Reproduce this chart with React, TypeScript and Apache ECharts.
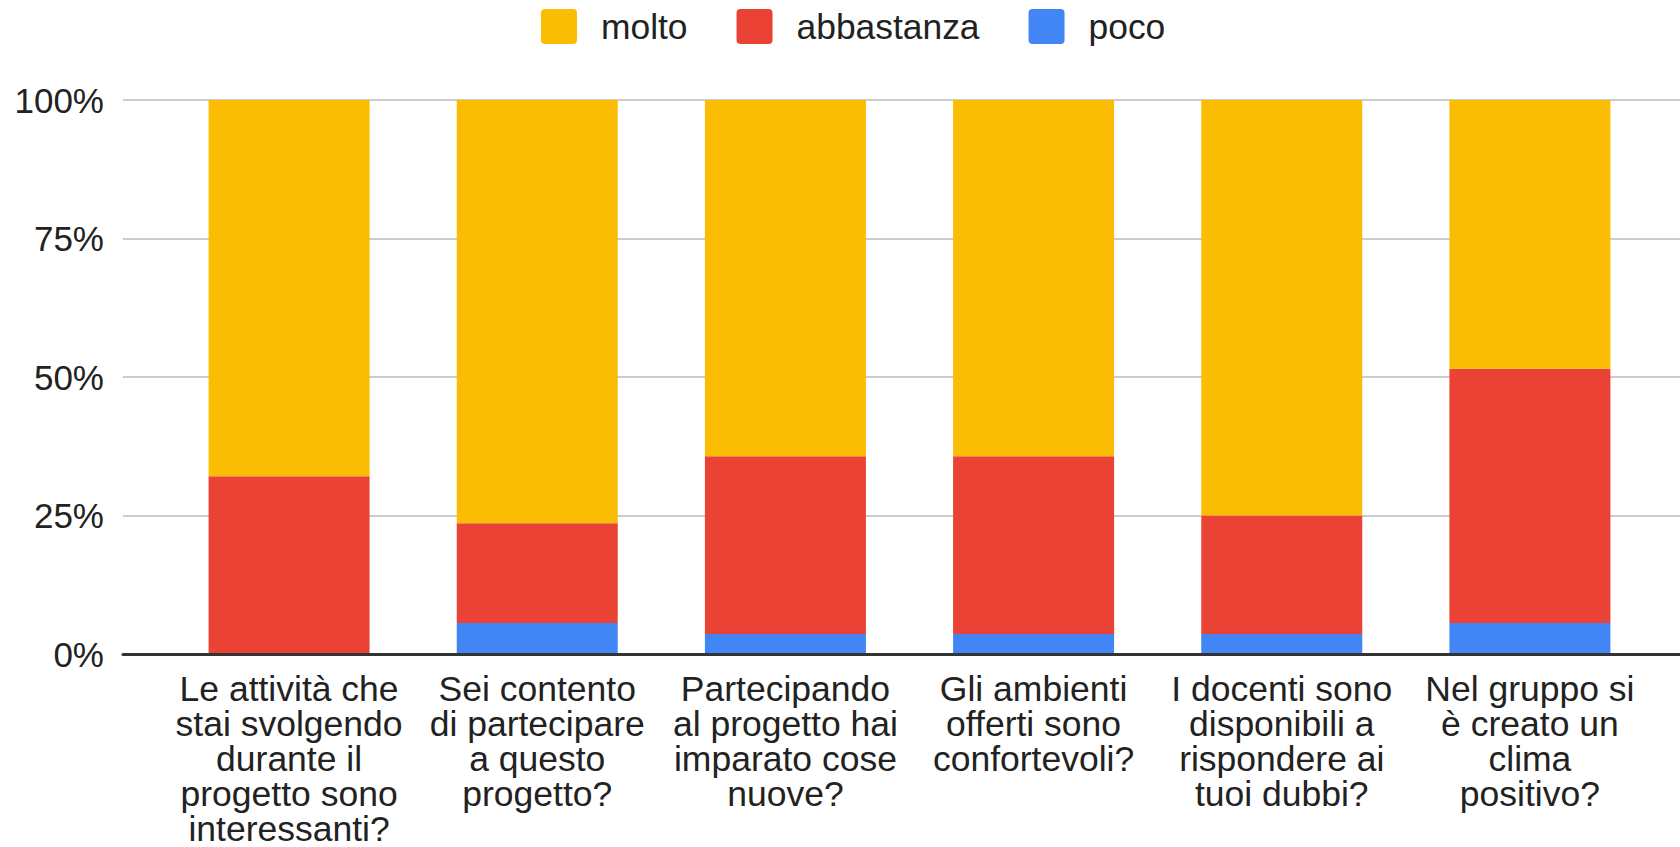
import React, { useEffect, useRef } from "react";
import * as echarts from "echarts";

const categories = [
  "Le attività che\nstai svolgendo\ndurante il\nprogetto sono\ninteressanti?",
  "Sei contento\ndi partecipare\na questo\nprogetto?",
  "Partecipando\nal progetto hai\nimparato cose\nnuove?",
  "Gli ambienti\nofferti sono\nconfortevoli?",
  "I docenti sono\ndisponibili a\nrispondere ai\ntuoi dubbi?",
  "Nel gruppo si\nè creato un\nclima\npositivo?",
];

const poco = [0, 5.6, 3.6, 3.6, 3.6, 5.6];
const abbastanza = [32.1, 18.0, 32.1, 32.1, 21.4, 45.9];
const molto = [67.9, 76.4, 64.3, 64.3, 75.0, 48.5];

const yTicks = [0, 25, 50, 75, 100];

const FONT = "'Liberation Sans', Arial, sans-serif";
const TEXT = "#222222";

export default function App() {
  const ref = useRef<HTMLDivElement>(null);

  useEffect(() => {
    if (!ref.current) return;
    const chart = echarts.init(ref.current, undefined, { renderer: "svg" });
    const icon =
      "path://M4,0 L32,0 Q36,0 36,4 L36,31 Q36,35 32,35 L4,35 Q0,35 0,31 L0,4 Q0,0 4,0 Z";
    chart.setOption({
      animation: false,
      backgroundColor: "#ffffff",
      textStyle: { fontFamily: FONT },
      legend: {
        data: ["molto", "abbastanza", "poco"],
        left: 536,
        top: 4,
        itemWidth: 36,
        itemHeight: 35,
        itemGap: 49,
        icon,
        textStyle: {
          fontSize: 35.4,
          color: TEXT,
          fontFamily: FONT,
          padding: [0, 0, 0, 19],
        },
      },
      grid: [
        { left: 123, right: 0, top: 100, bottom: 193, containLabel: false, outerBoundsMode: "none" },
        { left: 165, right: 26, top: 100, bottom: 193, containLabel: false, outerBoundsMode: "none" },
      ],
      xAxis: [
        {
          type: "category",
          gridIndex: 0,
          data: [""],
          z: 5,
          axisLine: { show: true, lineStyle: { color: "#333333", width: 3 } },
          axisTick: { show: false },
          axisLabel: { show: false },
          splitLine: { show: false },
        },
        {
          type: "category",
          gridIndex: 1,
          data: categories,
          axisLine: { show: false },
          axisTick: { show: false },
          axisLabel: {
            interval: 0,
            fontSize: 35.5,
            lineHeight: 35.2,
            color: TEXT,
            fontFamily: FONT,
            margin: 17,
            align: "center",
            verticalAlign: "top",
          },
        },
      ],
      yAxis: [
        {
          type: "value",
          gridIndex: 0,
          min: yTicks[0],
          max: yTicks[yTicks.length - 1],
          interval: 25,
          axisLine: { show: false },
          axisTick: { show: false },
          axisLabel: {
            formatter: "{value}%",
            fontSize: 35,
            color: TEXT,
            fontFamily: FONT,
            margin: 19,
          },
          splitLine: { lineStyle: { color: "#cccccc", width: 2 } },
        },
        {
          type: "value",
          gridIndex: 1,
          min: 0,
          max: 100,
          show: false,
          splitLine: { show: false },
        },
      ],
      series: [
        {
          name: "poco",
          type: "bar",
          stack: "total",
          xAxisIndex: 1,
          yAxisIndex: 1,
          barWidth: 161,
          data: poco,
          itemStyle: { color: "#4285f4" },
        },
        {
          name: "abbastanza",
          type: "bar",
          stack: "total",
          xAxisIndex: 1,
          yAxisIndex: 1,
          barWidth: 161,
          data: abbastanza,
          itemStyle: { color: "#ea4335" },
        },
        {
          name: "molto",
          type: "bar",
          stack: "total",
          xAxisIndex: 1,
          yAxisIndex: 1,
          barWidth: 161,
          data: molto,
          itemStyle: { color: "#fbbc04" },
        },
      ],
    });
    return () => chart.dispose();
  }, []);

  return (
    <div
      ref={ref}
      style={{ position: "fixed", left: 0, top: 0, width: 1680, height: 847 }}
    />
  );
}
